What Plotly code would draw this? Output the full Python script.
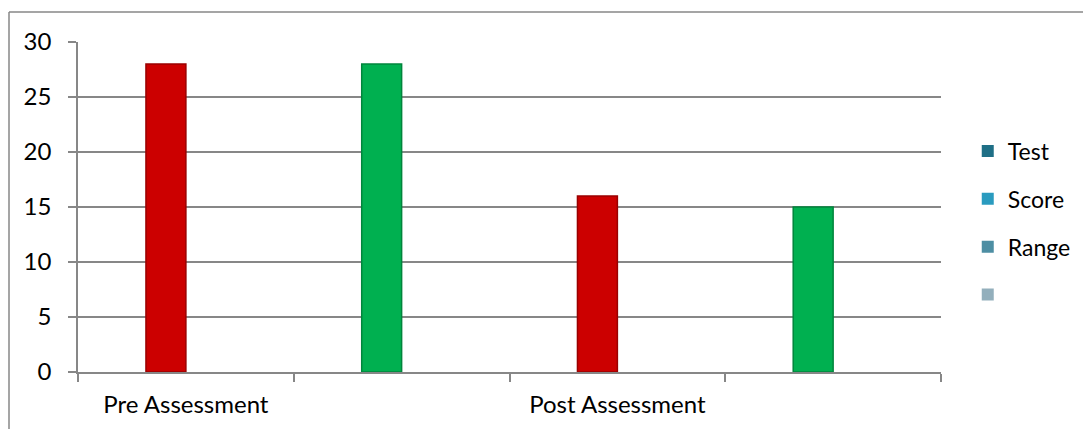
import plotly.graph_objects as go

# Category slots along the x axis (labels only on the first and third slot)
categories = ["Pre Assessment", " ", "Post Assessment", "  "]

# Series values per slot
test_values = [None, None, None, None]
score_values = [28, 28, 16, 15]
range_values = [None, None, None, None]
blank_values = [None, None, None, None]

# Per-point colours for the plotted series
point_colors = ["#cc0000", "#00b050", "#cc0000", "#00b050"]
point_edges = ["#9a0000", "#00853c", "#9a0000", "#00853c"]

# Legend swatch colours
legend_colors = {"Test": "#1f6f86", "Score": "#2a9bbf", "Range": "#4d8ea3", " ": "#93afbc"}

FONT = "Lato"
GRID = "#878787"

fig = go.Figure()

series = [
    ("Test", test_values, "g1"),
    ("Score", score_values, "g2"),
    ("Range", range_values, "g3"),
    (" ", blank_values, "g4"),
]

for name, vals, grp in series:
    # legend entry with the swatch colour
    fig.add_trace(go.Bar(
        x=categories, y=[None] * len(categories), name=name,
        offsetgroup=grp, legendgroup=grp,
        marker=dict(color=legend_colors[name], line=dict(width=0)),
        showlegend=True, hoverinfo="skip",
    ))
    if any(v is not None for v in vals):
        fig.add_trace(go.Bar(
            x=categories, y=vals, name=name,
            offsetgroup=grp, legendgroup=grp, showlegend=False,
            marker=dict(color=point_colors, line=dict(color=point_edges, width=1.5)),
        ))

# outer chart frame: left and top edges
frame_left = (9 - 78) / 863
frame_top = (372 - 12) / 330
fig.add_shape(type="line", xref="paper", yref="paper",
              x0=frame_left, x1=frame_left, y0=(372 - 470) / 330, y1=frame_top,
              line=dict(color=GRID, width=1.5), layer="below")
fig.add_shape(type="line", xref="paper", yref="paper",
              x0=frame_left, x1=(1120 - 78) / 863, y0=frame_top, y1=frame_top,
              line=dict(color=GRID, width=1.5), layer="below")

fig.update_layout(
    width=1083, height=429,
    margin=dict(l=78, r=142, t=42, b=57, autoexpand=False),
    paper_bgcolor="white", plot_bgcolor="white",
    barmode="group", bargap=0.26, bargroupgap=0,
    font=dict(family=FONT, size=24, color="#000000"),
    showlegend=True,
    legend=dict(
        x=1.031, y=0.735, xanchor="left", yanchor="top",
        traceorder="grouped", tracegroupgap=15,
        font=dict(family=FONT, size=23, color="#000000"),
        bgcolor="rgba(0,0,0,0)", itemwidth=30,
    ),
)

fig.update_xaxes(
    type="category", tickson="boundaries", ticks="outside", ticklen=8,
    tickcolor=GRID, tickwidth=1.5,
    showline=True, linecolor=GRID, linewidth=1.5,
    showgrid=False, zeroline=False, ticklabelstandoff=10,
    tickfont=dict(family=FONT, size=24, color="#000000"),
)

fig.update_yaxes(
    range=[0, 30], dtick=5, tick0=0,
    ticks="outside", ticklen=8, tickcolor=GRID, tickwidth=1.5,
    showline=True, linecolor=GRID, linewidth=1.5,
    showgrid=True, gridcolor=GRID, gridwidth=1.5,
    zeroline=False, ticklabelstandoff=12,
    tickfont=dict(family=FONT, size=24, color="#000000"),
)

fig.write_html("out.html")
